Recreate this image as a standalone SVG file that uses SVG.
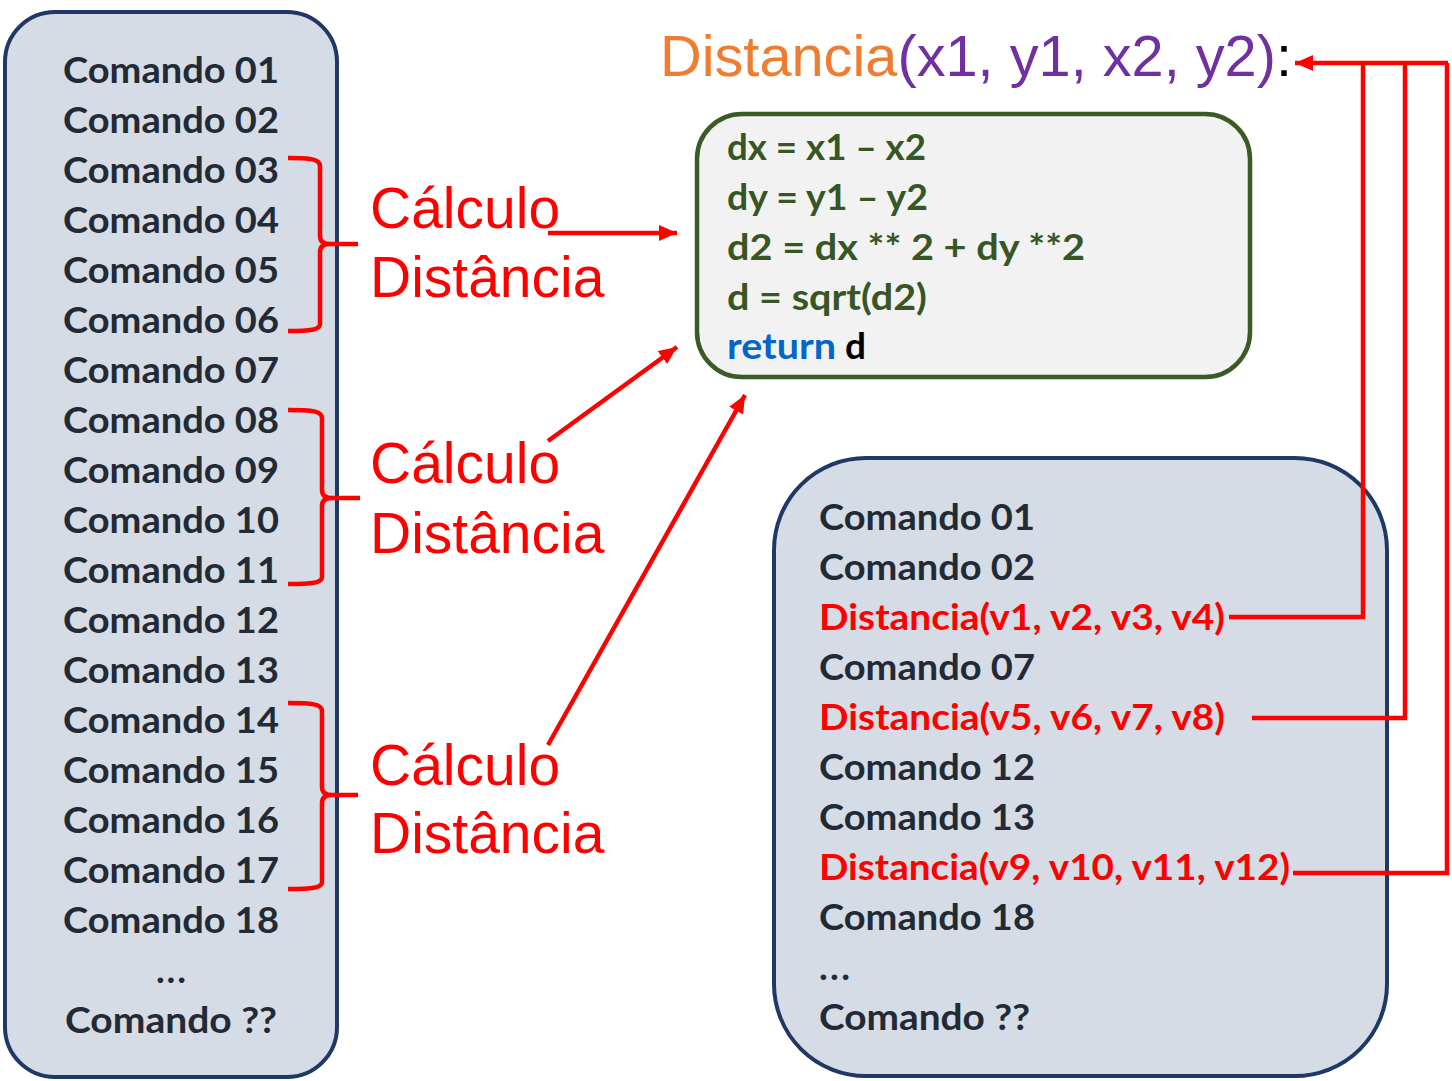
<svg xmlns="http://www.w3.org/2000/svg" width="1452" height="1081" viewBox="0 0 1452 1081">
<defs>
<style>
.box{fill:#D6DCE5;stroke:#1F3864;stroke-width:4}
.code{fill:#F2F2F2;stroke:#3B5A26;stroke-width:4.5}
.cmd{font-family:Lato,"Open Sans","Liberation Sans",sans-serif;font-weight:bold;font-size:37px;fill:#222A35}
.red{fill:#FF0000}
.ctext{font-family:Lato,"Open Sans","Liberation Sans",sans-serif;font-weight:bold;font-size:37px;fill:#375623}
.lbl{font-family:"Liberation Sans",Arial,sans-serif;font-size:57px;fill:#FF0000}
.sig{font-family:"Liberation Sans",Arial,sans-serif;font-size:57px}
.ln{fill:none;stroke:#FF0000;stroke-width:4.5}
</style>
<marker id="ah" markerUnits="userSpaceOnUse" markerWidth="20" markerHeight="18" refX="18" refY="8" orient="auto">
<path d="M0,0 L18,8 L0,16 z" fill="#FF0000"/>
</marker>
</defs>
<rect width="1452" height="1081" fill="#FFFFFF"/>

<g id="left-program">
<rect class="box" x="5" y="12" width="332" height="1065" rx="50"/>
<g class="cmd" text-anchor="middle">
<text x="171" y="83" textLength="216" lengthAdjust="spacingAndGlyphs">Comando 01</text>
<text x="171" y="133" textLength="216" lengthAdjust="spacingAndGlyphs">Comando 02</text>
<text x="171" y="183" textLength="216" lengthAdjust="spacingAndGlyphs">Comando 03</text>
<text x="171" y="233" textLength="216" lengthAdjust="spacingAndGlyphs">Comando 04</text>
<text x="171" y="283" textLength="216" lengthAdjust="spacingAndGlyphs">Comando 05</text>
<text x="171" y="333" textLength="216" lengthAdjust="spacingAndGlyphs">Comando 06</text>
<text x="171" y="383" textLength="216" lengthAdjust="spacingAndGlyphs">Comando 07</text>
<text x="171" y="433" textLength="216" lengthAdjust="spacingAndGlyphs">Comando 08</text>
<text x="171" y="483" textLength="216" lengthAdjust="spacingAndGlyphs">Comando 09</text>
<text x="171" y="533" textLength="216" lengthAdjust="spacingAndGlyphs">Comando 10</text>
<text x="171" y="583" textLength="216" lengthAdjust="spacingAndGlyphs">Comando 11</text>
<text x="171" y="633" textLength="216" lengthAdjust="spacingAndGlyphs">Comando 12</text>
<text x="171" y="683" textLength="216" lengthAdjust="spacingAndGlyphs">Comando 13</text>
<text x="171" y="733" textLength="216" lengthAdjust="spacingAndGlyphs">Comando 14</text>
<text x="171" y="783" textLength="216" lengthAdjust="spacingAndGlyphs">Comando 15</text>
<text x="171" y="833" textLength="216" lengthAdjust="spacingAndGlyphs">Comando 16</text>
<text x="171" y="883" textLength="216" lengthAdjust="spacingAndGlyphs">Comando 17</text>
<text x="171" y="933" textLength="216" lengthAdjust="spacingAndGlyphs">Comando 18</text>
<text x="171" y="983" textLength="30" lengthAdjust="spacing">...</text>
<text x="171" y="1033" textLength="212" lengthAdjust="spacingAndGlyphs">Comando ??</text>
</g>
</g>

<g id="brace-1">
<path class="ln" d="M288,158 C310,158 320,159 320,166 L320,236 C320,242 324,244 330,244 L358,244 M330,244 C324,244 320,246 320,252 L320,324 C320,330 310,331 288,331"/>
<text class="lbl" x="370" y="228">Cálculo</text>
<text class="lbl" x="370" y="297">Distância</text>
</g>
<g id="brace-2">
<path class="ln" d="M288,410 C312,410 322,411 322,418 L322,490 C322,496 326,498 332,498 L360,498 M332,498 C326,498 322,500 322,506 L322,577 C322,583 312,584 288,584"/>
<text class="lbl" x="370" y="483">Cálculo</text>
<text class="lbl" x="370" y="553">Distância</text>
</g>
<g id="brace-3">
<path class="ln" d="M288,703 C312,703 322,704 322,711 L322,787 C322,793 326,795 332,795 L358,795 M332,795 C326,795 322,797 322,803 L322,882 C322,888 312,889 288,889"/>
<text class="lbl" x="370" y="785">Cálculo</text>
<text class="lbl" x="370" y="853">Distância</text>
</g>

<g id="signature">
<text class="sig" x="660" y="76" textLength="632" lengthAdjust="spacingAndGlyphs"><tspan fill="#ED7D31">Distancia</tspan><tspan fill="#7030A0">(x1, y1, x2, y2)</tspan><tspan fill="#000000">:</tspan></text>
</g>

<g id="function-body">
<rect class="code" x="697" y="114" width="553" height="263" rx="45"/>
<text class="ctext" x="727" y="160" textLength="199" lengthAdjust="spacingAndGlyphs">dx = x1 – x2</text>
<text class="ctext" x="727" y="210" textLength="201" lengthAdjust="spacingAndGlyphs">dy = y1 – y2</text>
<text class="ctext" x="727" y="260" textLength="358" lengthAdjust="spacingAndGlyphs">d2 = dx ** 2 + dy **2</text>
<text class="ctext" x="727" y="310" textLength="200" lengthAdjust="spacingAndGlyphs">d = sqrt(d2)</text>
<text class="ctext" x="727" y="359"><tspan fill="#0066CC" textLength="109" lengthAdjust="spacingAndGlyphs">return</tspan> <tspan x="845" fill="#000000">d</tspan></text>
</g>

<g id="right-program">
<rect class="box" x="774" y="458" width="613" height="618" rx="92"/>
<g class="cmd">
<text x="819" y="530" textLength="216" lengthAdjust="spacingAndGlyphs">Comando 01</text>
<text x="819" y="580" textLength="216" lengthAdjust="spacingAndGlyphs">Comando 02</text>
<text class="red" x="819" y="630" textLength="406" lengthAdjust="spacingAndGlyphs">Distancia(v1, v2, v3, v4)</text>
<text x="819" y="680" textLength="216" lengthAdjust="spacingAndGlyphs">Comando 07</text>
<text class="red" x="819" y="730" textLength="406" lengthAdjust="spacingAndGlyphs">Distancia(v5, v6, v7, v8)</text>
<text x="819" y="780" textLength="216" lengthAdjust="spacingAndGlyphs">Comando 12</text>
<text x="819" y="830" textLength="216" lengthAdjust="spacingAndGlyphs">Comando 13</text>
<text class="red" x="819" y="880" textLength="471" lengthAdjust="spacingAndGlyphs">Distancia(v9, v10, v11, v12)</text>
<text x="819" y="930" textLength="216" lengthAdjust="spacingAndGlyphs">Comando 18</text>
<text x="819" y="980" textLength="31" lengthAdjust="spacing">...</text>
<text x="819" y="1030" textLength="211" lengthAdjust="spacingAndGlyphs">Comando ??</text>
</g>
</g>

<g id="connectors">
<path class="ln" d="M548,233 L677,233" marker-end="url(#ah)"/>
<path class="ln" d="M548,441 L677,347" marker-end="url(#ah)"/>
<path class="ln" d="M548,745 L745,395" marker-end="url(#ah)"/>
<path class="ln" d="M1448,63 L1295,63" marker-end="url(#ah)"/>
<path class="ln" d="M1229,617 L1363,617 L1363,63"/>
<path class="ln" d="M1252,718 L1405,718 L1405,63"/>
<path class="ln" d="M1293,873 L1447,873 L1447,63"/>
</g>
</svg>
